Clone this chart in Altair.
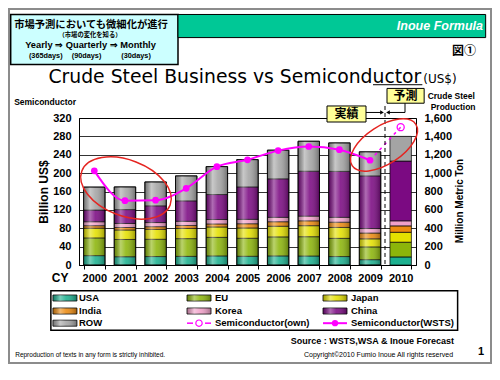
import altair as alt
import pandas as pd

# ---------------- data ----------------
years = ["2000", "2001", "2002", "2003", "2004", "2005", "2006", "2007", "2008", "2009", "2010"]
countries = ["USA", "EU", "Japan", "India", "Korea", "China", "ROW"]
usa = [102, 90, 92, 94, 99, 95, 99, 98, 92, 58, 88]
eu = [193, 188, 188, 193, 202, 196, 207, 210, 198, 139, 160]
japan = [106, 103, 108, 111, 113, 112, 116, 120, 119, 88, 108]
india = [27, 27, 29, 32, 33, 46, 49, 53, 57, 63, 70]
korea = [43, 44, 45, 46, 48, 48, 48, 51, 53, 49, 55]
china = [127, 151, 182, 222, 272, 353, 419, 489, 500, 573, 650]
row = [250, 247, 260, 272, 304, 297, 312, 326, 310, 262, 269]
semi_wsts_years = years[:10]
semi_wsts = [205, 140, 141, 167, 214, 229, 249, 258, 251, 228]
semi_own_years = ["2009", "2010"]
semi_own = [228, 300]
left_ticks = [0, 40, 80, 120, 160, 200, 240, 280, 320]
right_ticks = [0, 200, 400, 600, 800, 1000, 1200, 1400, 1600]
bar_colors = ["#1CB08F", "#8CB50A", "#E4E000", "#EC8A10", "#F0A0C8", "#7B0A82", "#A4A4A4"]
legend_names = countries + ["Semiconductor(own)", "Semiconductor(WSTS)"]

series = [usa, eu, japan, india, korea, china, row]
long_rows = []
for ci, (name, vals) in enumerate(zip(countries, series)):
    for yr, v in zip(years, vals):
        long_rows.append({"year": yr, "country": name, "mt": v, "idx": ci})
steel = pd.DataFrame(long_rows)
totals = pd.DataFrame({"year": years[:10],
                       "total": [sum(s[i] for s in series) for i in range(10)]})
wsts = pd.DataFrame({"year": semi_wsts_years, "v": semi_wsts})
own = pd.DataFrame({"year": semi_own_years, "v": semi_own})
own_pt = own[own["year"] == "2010"]

# ---------------- layout helpers ----------------
F = "Liberation Sans"
CJK = "Noto Sans CJK JP"
MAG = "#FF00FF"
XP = [(0, 0), (79, 71), (416, 408), (500, 484)]
YP = [(0, 0), (119, 110), (266, 257), (380, 356)]
PL, PT, W, H = 71, 110, 337, 147


def _pw(v, pts):
    for (a0, b0), (a1, b1) in zip(pts, pts[1:]):
        if v <= a1:
            return b0 + (v - a0) * (b1 - b0) / (a1 - a0)
    (a0, b0), (a1, b1) = pts[-2], pts[-1]
    return b0 + (v - a0) * (b1 - b0) / (a1 - a0)


def PX(rx):
    return _pw(rx, XP) - PL


def PY(ry):
    return _pw(ry, YP) - PT


dummy = alt.Data(values=[{"a": 1}])


def txt(s, x, y, size=11, weight="bold", align="center", baseline="middle",
        color="black", font=F, angle=0, style="normal"):
    return alt.Chart(dummy).mark_text(
        text=s, align=align, baseline=baseline, fontSize=size, fontWeight=weight,
        color=color, font=font, angle=angle, fontStyle=style
    ).encode(x=alt.value(x), y=alt.value(y))


def box(x1, x2, y1, y2, fill="transparent", stroke="black", sw=1.0):
    return alt.Chart(dummy).mark_rect(fill=fill, stroke=stroke, strokeWidth=sw).encode(
        x=alt.value(x1), x2=alt.value(x2), y=alt.value(y1), y2=alt.value(y2))


def line(x1, x2, y1, y2, color="black", sw=1.0, dash=None):
    kw = dict(color=color, strokeWidth=sw)
    if dash:
        kw["strokeDash"] = dash
    return alt.Chart(dummy).mark_rule(**kw).encode(
        x=alt.value(x1), x2=alt.value(x2), y=alt.value(y1), y2=alt.value(y2))


def sym(x, y, shape, size, color="black", filled=True, sw=1.0, angle=0):
    return alt.Chart(dummy).mark_point(
        shape=shape, size=size, filled=filled, color=color, opacity=1,
        strokeWidth=sw, angle=angle).encode(x=alt.value(x), y=alt.value(y))


shine = alt.LinearGradient(
    gradient="linear", x1=0, x2=1, y1=0, y2=0,
    stops=[alt.GradientStop(offset=0, color="rgba(0,0,0,0.28)"),
           alt.GradientStop(offset=0.3, color="rgba(255,255,255,0.40)"),
           alt.GradientStop(offset=0.55, color="rgba(255,255,255,0.12)"),
           alt.GradientStop(offset=1, color="rgba(0,0,0,0.32)")])

# ---------------- data layers ----------------
X = alt.X("year:N", title=None,
          scale=alt.Scale(domain=years, paddingInner=0.3, paddingOuter=0.15),
          axis=alt.Axis(labelAngle=0, labelFont=F, labelFontSize=11, labelFontWeight="bold",
                        labelColor="black", tickBand="extent", tickSize=4, tickColor="black",
                        domainColor="black", labelPadding=3, grid=False))

bars = alt.Chart(steel).mark_bar(stroke="black", strokeWidth=0.7).encode(
    x=X,
    y=alt.Y("mt:Q", stack="zero", title=None,
            scale=alt.Scale(domain=[0, 1600], nice=False),
            axis=alt.Axis(orient="right", values=right_ticks, format=",d", grid=False,
                          ticks=False, tickSize=0, domain=False, labelFont=F, labelFontSize=11,
                          labelFontWeight="bold", labelColor="black", labelPadding=8)),
    color=alt.Color("country:N", scale=alt.Scale(domain=countries, range=bar_colors), legend=None),
    order=alt.Order("idx:Q", sort="ascending"),
)

overlay = alt.Chart(totals).mark_bar(fill=shine, stroke="black", strokeWidth=0.8).encode(
    x=X,
    y=alt.Y("total:Q", title=None, scale=alt.Scale(domain=[0, 1600], nice=False), axis=None),
)

wsts_line = alt.Chart(wsts).mark_line(
    color=MAG, strokeWidth=2, interpolate="monotone",
    point=alt.OverlayMarkDef(filled=True, size=45, color=MAG, opacity=1)
).encode(
    x=X,
    y=alt.Y("v:Q", title=None, scale=alt.Scale(domain=[0, 320], nice=False),
            axis=alt.Axis(orient="left", values=left_ticks, grid=True, gridColor="black",
                          gridWidth=0.8, ticks=False, tickSize=0, domainColor="black",
                          labelFont=F, labelFontSize=11, labelFontWeight="bold",
                          labelColor="black", labelPadding=8)),
)

own_line = alt.Chart(own).mark_line(color=MAG, strokeWidth=1.5, strokeDash=[3, 4]).encode(
    x=X, y=alt.Y("v:Q", title=None, scale=alt.Scale(domain=[0, 320], nice=False), axis=None))
own_point = alt.Chart(own_pt).mark_point(color=MAG, filled=False, size=50, strokeWidth=1.3,
                                         opacity=1).encode(
    x=X, y=alt.Y("v:Q", title=None, scale=alt.Scale(domain=[0, 320], nice=False), axis=None))

# ---------------- decorations ----------------
deco_back = [
    box(-70, 412, -109, 245, fill="transparent", stroke="#8C8C8C", sw=2),
    box(PX(3), PX(178), PY(7), PY(61), fill="#CCFFFF", stroke="black", sw=1.5),
    box(PX(178), PX(493), PY(7), PY(32), fill="#00C896", stroke="black", sw=1),
]

texts = [
    txt("市場予測においても微細化が進行", PX(91), PY(18.5), size=10.3, font=CJK),
    txt("（市場の変化を知る）", PX(90), PY(29.5), size=6.3, font=CJK),
    txt("Yearly ⇒ Quarterly ⇒ Monthly", PX(90.5), PY(40.5), size=9.3),
    txt("(365days)", PX(42), PY(52), size=7.3),
    txt("(90days)", PX(86.5), PY(52), size=7.3),
    txt("(30days)", PX(136), PY(52), size=7.3),
    txt("Inoue Formula", PX(490), PY(20), size=12.5, align="right", color="white", style="italic"),
    txt("図①", PX(469), PY(46), size=12, font=CJK),
    txt("Crude Steel Business vs Semiconductor", PX(45), PY(81), size=18.8, weight="normal",
        align="left", baseline="alphabetic", font="DejaVu Sans"),
    txt("(US$)", PX(424), PY(81), size=12, weight="normal", align="left",
        baseline="alphabetic", font="DejaVu Sans"),
    txt("Semiconductor", -3, PY(102), size=8.5, align="right"),
    txt("Crude Steel", PX(455), PY(95), size=8.5),
    txt("Production", PX(457), PY(107), size=8.5),
    txt("Billion US$", PX(40), PY(193), size=12, angle=270),
    txt("Million Metric Ton", PX(465), PY(202), size=10, angle=270),
    txt("CY", PX(58), PY(281), size=12),
    txt("Source : WSTS,WSA & Inoue Forecast", PX(458), PY(353), size=9, align="right"),
    txt("Reproduction of texts in any form is strictly inhibited.", PX(8), PY(370), size=6.5,
        weight="normal", align="left"),
    txt("Copyright©2010 Fumio Inoue All rights reserved", PX(457), PY(370), size=7,
        weight="normal", align="right"),
    txt("1", PX(488), PY(366), size=11),
]

annot = [
    line(PX(385), PX(385), PY(106), H, dash=[4, 3]),
    line(PX(373), PX(423), PY(83), PY(83), sw=1),
    box(PX(327), PX(366), PY(106), PY(123), fill="#FFFF99", stroke="black", sw=1),
    txt("実績", (PX(327) + PX(366)) / 2, (PY(106) + PY(123)) / 2, size=12, font=CJK),
    box(PX(387), PX(425), PY(87), PY(103), fill="#FFFF99", stroke="black", sw=1),
    txt("予測", (PX(387) + PX(425)) / 2, (PY(87) + PY(103)) / 2, size=12, font=CJK),
    line(PX(366), PX(382), PY(113), PY(113)),
    sym(PX(382), PY(113), "triangle-right", 18),
    line(PX(405), PX(405), PY(103), PY(113)),
    line(PX(388), PX(405), PY(113), PY(113)),
    sym(PX(388), PY(113), "triangle-left", 18),
    sym(126 - 79, 189 - 119, "M -1 0 A 1 0.59 0 1 1 1 0 A 1 0.59 0 1 1 -1 0 Z",
        (2 * 47.3) ** 2, color="#E52521", filled=False, sw=1.5, angle=21),
    sym(384 - 79, 146 - 119, "M -1 0 A 1 0.5 0 1 1 1 0 A 1 0.5 0 1 1 -1 0 Z",
        (2 * 38) ** 2, color="#E52521", filled=False, sw=1.5, angle=327),
]

# ---------------- legend (manual 3x3 box) ----------------
leg = [box(PX(47.7), PX(462), PY(295.7), PY(341), fill="transparent", stroke="black", sw=1.5)]
col_sym = [PX(50), PX(187), PX(323)]
col_txt = [PX(79), PX(215), PX(351)]
row_y = [PY(304), PY(319), PY(333)]
for i, name in enumerate(legend_names):
    r, c = divmod(i, 3)
    x0, y0 = col_sym[c], row_y[r]
    if i < len(countries):
        leg.append(box(x0, x0 + 24, y0 - 3, y0 + 3, fill=bar_colors[i], stroke="black", sw=0.8))
        leg.append(alt.Chart(dummy).mark_rect(fill=shine).encode(
            x=alt.value(x0), x2=alt.value(x0 + 24), y=alt.value(y0 - 3), y2=alt.value(y0 + 3)))
    elif name.endswith("(own)"):
        leg.append(line(x0, x0 + 6, y0, y0, color=MAG, sw=1.5))
        leg.append(line(x0 + 18, x0 + 24, y0, y0, color=MAG, sw=1.5))
        leg.append(sym(x0 + 12, y0, "circle", 40, color=MAG, filled=False, sw=1.2))
    else:
        leg.append(line(x0, x0 + 24, y0, y0, color=MAG, sw=2))
        leg.append(sym(x0 + 12, y0, "circle", 40, color=MAG, filled=True))
    leg.append(txt(name, col_txt[c], y0, size=9.5, align="left"))

chart = alt.layer(
    *deco_back, bars, overlay, wsts_line, own_line, own_point, *annot, *texts, *leg
).resolve_scale(y="independent").properties(
    width=W, height=H,
    autosize=alt.AutoSizeParams(type="none"),
    padding={"left": PL, "top": PT, "right": 484 - PL - W, "bottom": 356 - PT - H},
).configure_view(stroke="black", strokeWidth=1)

chart.save("out.html", embed_options={"renderer": "svg", "actions": False})
